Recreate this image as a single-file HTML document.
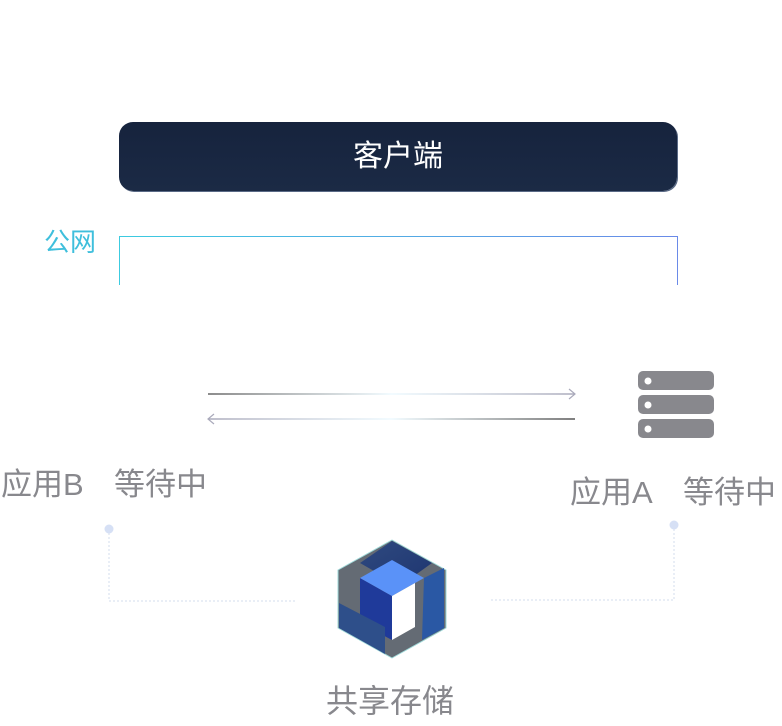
<!DOCTYPE html>
<html><head><meta charset="utf-8"><style>
body{margin:0;width:782px;height:726px;background:#fff;position:relative;overflow:hidden;font-family:"Liberation Sans","Noto Sans CJK SC",sans-serif}
.t{position:absolute;white-space:nowrap}
</style></head><body>
<div style="position:absolute;left:119px;top:122px;width:558px;height:69px;border-radius:14px;background:linear-gradient(#16233d,#1b2a45);box-shadow:1px 1px 0 #5a6a86"></div>
<div class="t" style="left:119px;top:137px;width:558px;text-align:center;color:#fff;font-size:30px;line-height:40px">客户端</div>
<div class="t" style="left:44px;top:225px;font-size:26px;line-height:34px;color:#3fbfdc">公网</div>
<div style="position:absolute;left:119px;top:236px;width:557px;height:48px;border:1px solid;border-bottom:none;border-image:linear-gradient(90deg,#3ccbe0,#6a8ae8) 1"></div>
<svg width="782" height="726" style="position:absolute;left:0;top:0">
<defs>
<linearGradient id="a1" gradientUnits="userSpaceOnUse" x1="208" y1="0" x2="575" y2="0"><stop offset="0" stop-color="#666"/><stop offset=".5" stop-color="#eefaff"/><stop offset="1" stop-color="#aab"/></linearGradient>
<linearGradient id="a2" gradientUnits="userSpaceOnUse" x1="208" y1="0" x2="575" y2="0"><stop offset="0" stop-color="#aab"/><stop offset=".5" stop-color="#eefaff"/><stop offset="1" stop-color="#555"/></linearGradient>
<linearGradient id="h1" x1="0" y1="0" x2="1" y2="1"><stop offset="0" stop-color="#2f4a80"/><stop offset="1" stop-color="#1e3570"/></linearGradient>
</defs>
<line x1="208" y1="394" x2="575" y2="394" stroke="url(#a1)" stroke-width="1.5"/>
<polyline points="569,389 575,394 569,399" fill="none" stroke="#aab" stroke-width="1.2"/>
<line x1="208" y1="419" x2="575" y2="419" stroke="url(#a2)" stroke-width="1.5"/>
<polyline points="214,414 208,419 214,424" fill="none" stroke="#aab" stroke-width="1.2"/>
<g fill="#88888d"><rect x="638" y="371" width="76" height="19" rx="5"/><rect x="638" y="395" width="76" height="19" rx="5"/><rect x="638" y="419" width="76" height="19" rx="5"/></g>
<g fill="#fff"><circle cx="648" cy="381" r="3.5"/><circle cx="648" cy="405" r="3.5"/><circle cx="648" cy="429" r="3.5"/></g>
<circle cx="109" cy="529" r="4.5" fill="#d6e0f5"/>
<circle cx="674" cy="525" r="4.5" fill="#d6e0f5"/>
<polyline points="109,533 109,601 296,601" fill="none" stroke="#d3dcee" stroke-dasharray="2,2"/>
<polyline points="674,529 674,600 490,600" fill="none" stroke="#d3dcee" stroke-dasharray="2,2"/>
<path d="M392,540 L446,570 L446,628 L392,658 L338,628 L338,570 Z" fill="#646b74" stroke="#9fd9d9" stroke-width="1" stroke-linejoin="round"/>
<path d="M392,541 L432,563 L400,586 L360,563 Z" fill="url(#h1)"/>
<path d="M360,578 L392,596 L392,640 L360,623 Z" fill="#1f3a9a"/>
<path d="M360,578 L392,560 L424,578 L392,596 Z" fill="#5a92f8"/>
<path d="M392,596 L415,583 L415,627 L392,640 Z" fill="#fff"/>
<path d="M424,578 L444,568 L444,628 L422,640 Z" fill="#2a58a4"/>
<path d="M339,603 L385,627 L385,654 L339,628 Z" fill="#2e4f8a"/>
</svg>
<div class="t" style="left:1px;top:464px;font-size:31px;line-height:42px;color:#88888d">应用B</div>
<div class="t" style="left:114px;top:464px;font-size:31px;line-height:42px;color:#88888d">等待中</div>
<div class="t" style="left:570px;top:472px;font-size:31px;line-height:42px;color:#88888d">应用A</div>
<div class="t" style="left:683px;top:472px;font-size:31px;line-height:42px;color:#88888d">等待中</div>
<div class="t" style="left:326px;top:679px;font-size:32px;line-height:44px;color:#88888d">共享存储</div>
</body></html>
